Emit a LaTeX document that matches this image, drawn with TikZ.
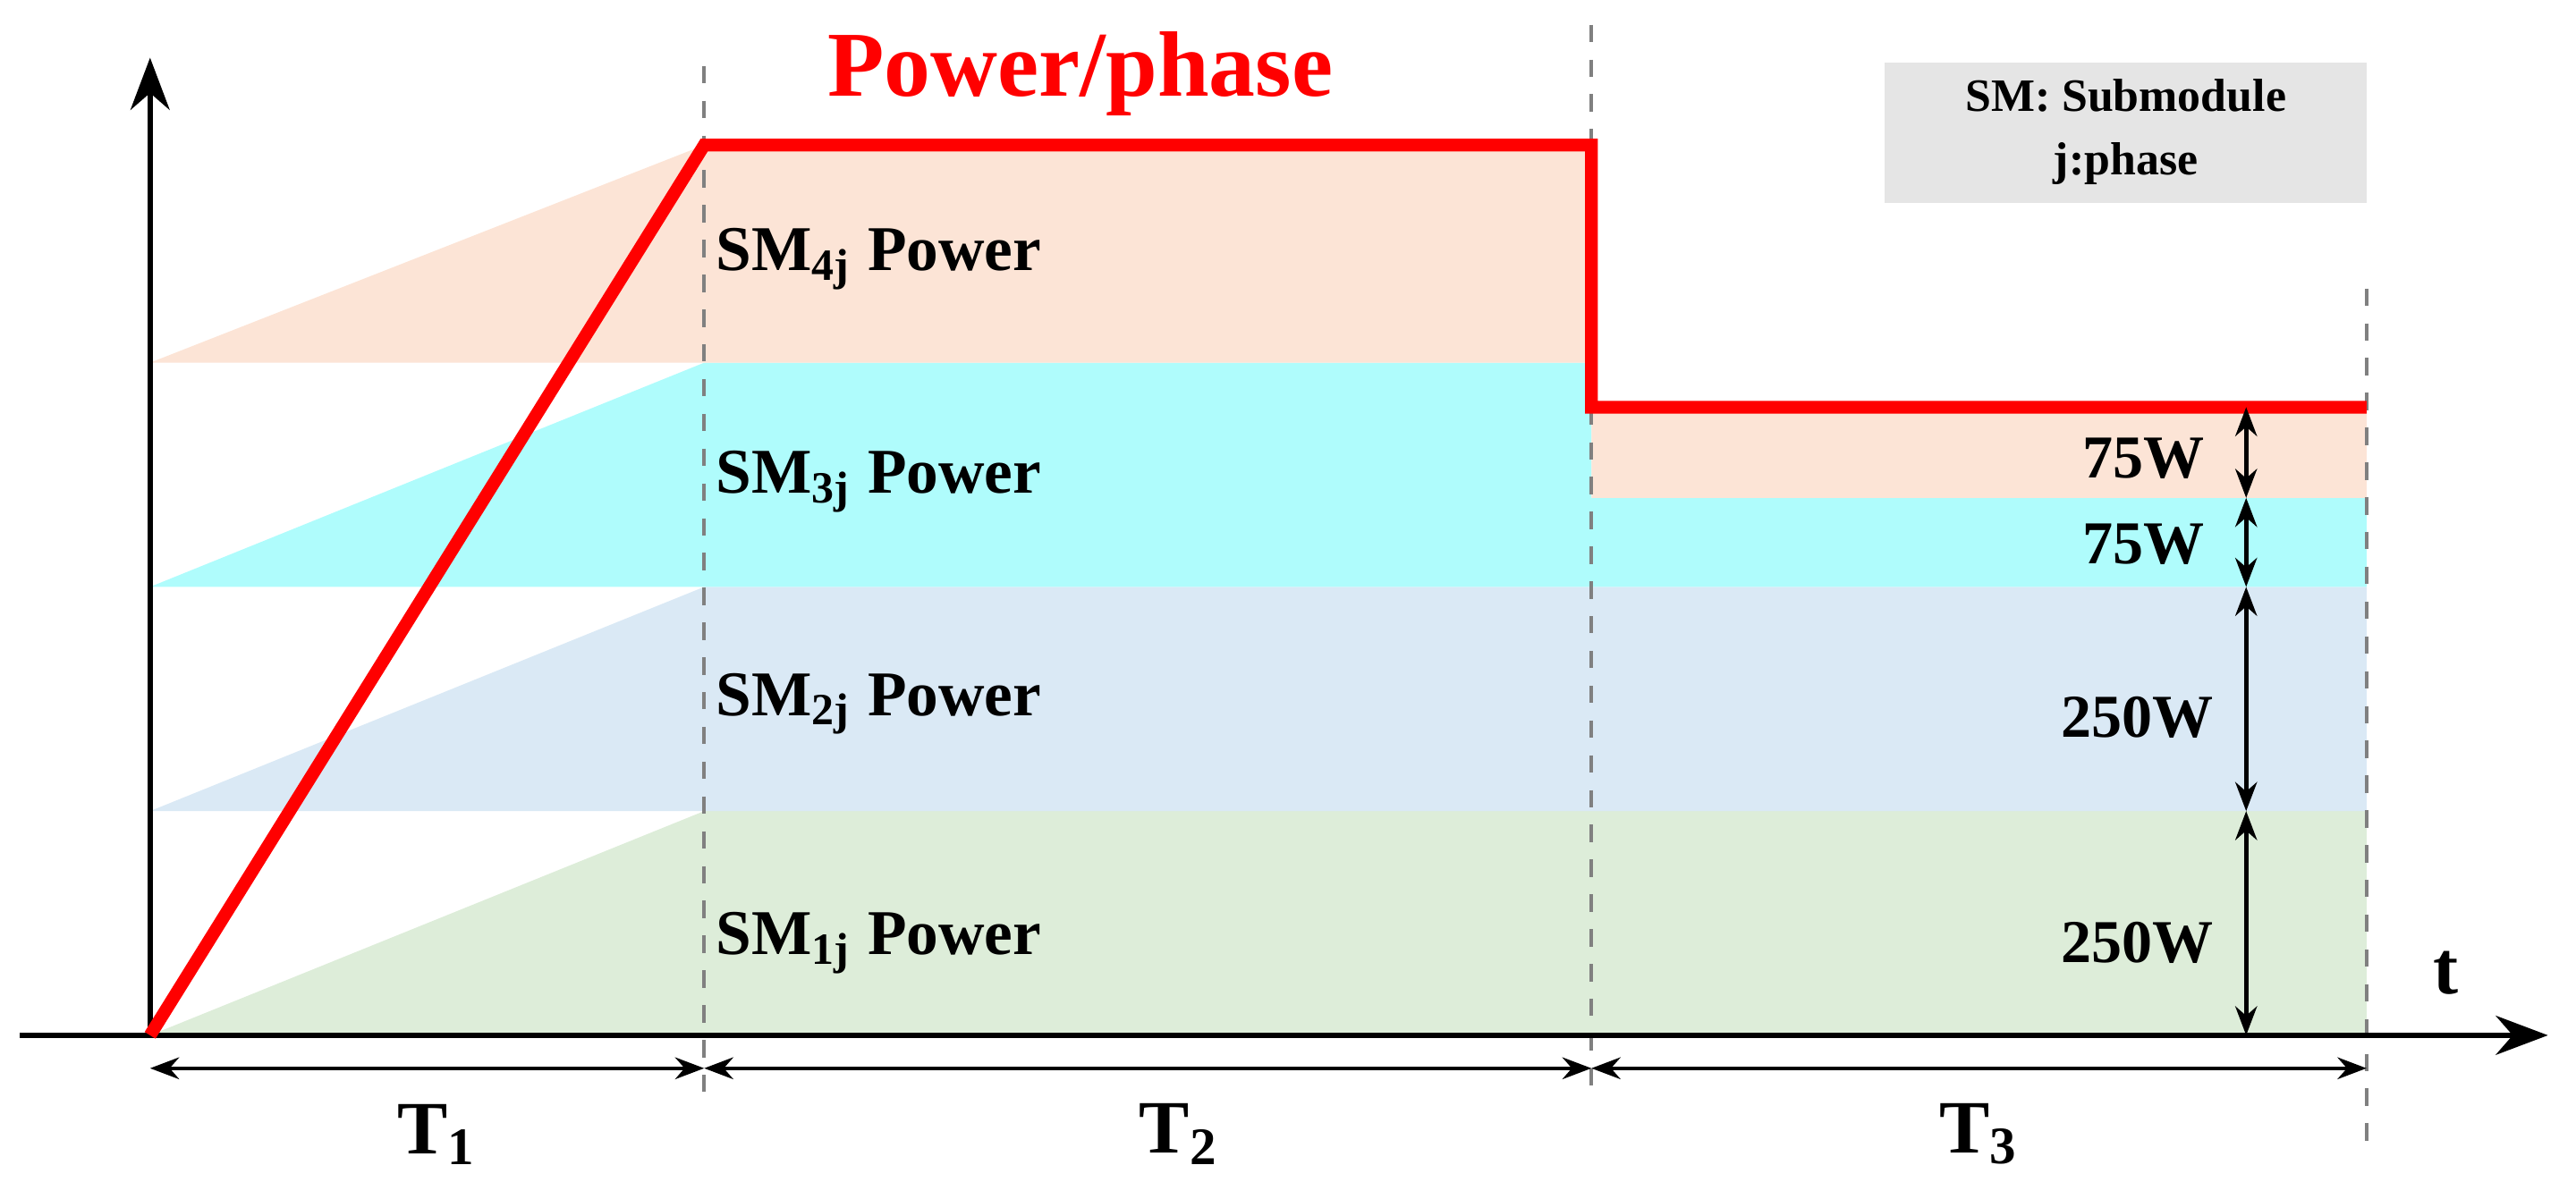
\documentclass[tikz,border=0pt]{standalone}
\usepackage{fontspec}
\setmainfont{Liberation Serif}
\usetikzlibrary{arrows.meta}
\definecolor{cA}{HTML}{FCE4D6}
\definecolor{cB}{HTML}{AFFCFC}
\definecolor{cC}{HTML}{DAE9F5}
\definecolor{cD}{HTML}{DDEDD9}
\begin{document}
\begin{tikzpicture}[x=0.01cm,y=-0.01cm,
  lbl/.style={font=\bfseries\fontsize{11}{13}\selectfont,anchor=west,inner sep=1pt},
  wlbl/.style={font=\bfseries\fontsize{10.5}{12}\selectfont},
  tl/.style={font=\bfseries\fontsize{13}{15}\selectfont},
  dim/.style={{Stealth[length=5pt]}-{Stealth[length=5pt]},line width=0.7pt},
  guide/.style={gray,dashed,line width=0.6pt}]
\useasboundingbox (0,0) rectangle (1562,727);
% bands
\fill[cD] (91,628) -- (427,492) -- (1435,492) -- (1435,628) -- cycle;
\fill[cC] (91,492) -- (427,356) -- (1435,356) -- (1435,492) -- cycle;
\fill[cB] (91,356) -- (427,220) -- (965,220) -- (965,302) -- (1435,302) -- (1435,356) -- cycle;
\fill[cA] (91,220) -- (427,88) -- (965,88) -- (965,247) -- (1435,247) -- (1435,302) -- (965,302) -- (965,220) -- cycle;
% guides
\draw[guide] (427,40) -- (427,662);
\draw[guide] (965,15) -- (965,662);
\draw[guide] (1435,175) -- (1435,700);
% axes
\draw[-{Stealth[length=9pt]},line width=0.9pt] (12,628) -- (1545,628);
\draw[-{Stealth[length=9pt]},line width=0.9pt] (91,628) -- (91,35);
% red power line
\draw[red,line width=2.2pt] (91,628) -- (427,88) -- (965,88) -- (965,247) -- (1435,247);
% dimension arrows
\coordinate (o) at (91,648); \coordinate (a) at (427,648); \coordinate (b) at (965,648); \coordinate (c) at (1435,648);
\draw[dim] (o) -- (a); \draw[dim] (a) -- (b); \draw[dim] (b) -- (c);
\node[tl] (t1) at (265,688) {T\textsubscript{1}};
\node[tl] (t2) at (715,688) {T\textsubscript{2}};
\node[tl] (t3) at (1200,688) {T\textsubscript{3}};
\coordinate (v0) at (1362,247); \coordinate (v1) at (1362,302); \coordinate (v2) at (1362,356); \coordinate (v3) at (1362,492); \coordinate (v4) at (1362,628);
\draw[dim] (v0) -- (v1); \draw[dim] (v1) -- (v2); \draw[dim] (v2) -- (v3); \draw[dim] (v3) -- (v4);
\node[wlbl] (w1) at (1300,278) {75W};
\node[wlbl] (w2) at (1300,330) {75W};
\node[wlbl] (w3) at (1296,435) {250W};
\node[wlbl] (w4) at (1296,572) {250W};
% labels
\node[lbl] (s4) at (430,157) {SM\textsubscript{4j} Power};
\node[lbl] (s3) at (430,292) {SM\textsubscript{3j} Power};
\node[lbl] (s2) at (430,427) {SM\textsubscript{2j} Power};
\node[lbl] (s1) at (430,572) {SM\textsubscript{1j} Power};
\node[red,font=\bfseries\fontsize{16}{18}\selectfont] (pp) at (655,45) {Power/phase};
\node[tl] (t) at (1483,590) {t};
\fill[gray!20] (1143,38) rectangle (1435,123);
\node[font=\bfseries\fontsize{8}{11}\selectfont,align=center] (leg) at (1289,80) {SM: Submodule\\j:phase};
\end{tikzpicture}
\end{document}
